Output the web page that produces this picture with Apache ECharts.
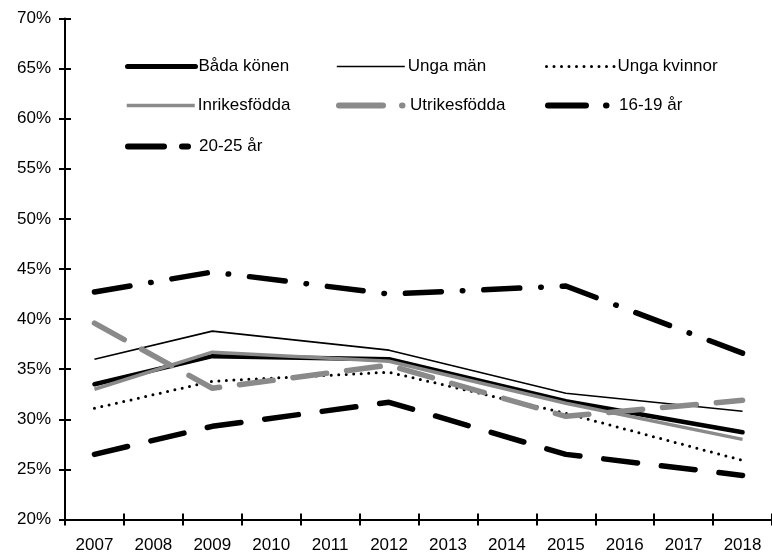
<!DOCTYPE html>
<html>
<head>
<meta charset="utf-8">
<script src="https://cdn.jsdelivr.net/npm/echarts@6/dist/echarts.min.js"></script>
<style>
  html, body { margin: 0; padding: 0; background: #fff; }
  #chart { width: 772px; height: 557px; }
</style>
</head>
<body>
<div id="chart"></div>
<script>
// years on the x axis, values only at the survey years (others are null)
const years = ['2007', '2008', '2009', '2010', '2011', '2012', '2013', '2014', '2015', '2016', '2017', '2018']
const badaKonen = [33.5, null, 36.3, null, null, 36.0, null, null, 31.8, null, null, 28.7]
const ungaMan = [36.0, null, 38.8, null, null, 36.9, null, null, 32.6, null, null, 30.8]
const ungaKvinnor = [31.1, null, 33.8, null, null, 34.7, null, null, 30.6, null, null, 25.9]
const inrikesfodda = [33.0, null, 36.7, null, null, 35.8, null, null, 31.6, null, null, 28.0]
const utrikesfodda = [39.6, null, 33.1, null, null, 35.4, null, null, 30.3, null, null, 31.9]
const ar1619 = [42.7, null, 44.7, null, null, 42.5, null, null, 43.3, null, null, 36.6]
const ar2025 = [26.5, null, 29.3, null, null, 31.7, null, null, 26.5, null, null, 24.4]

const font = "'Liberation Sans', Arial, sans-serif"
const grey = '#8a8a8a'

let chart = echarts.init(document.getElementById('chart'))

function line(name, data, color, width, type, cap) {
  return {
    name: name,
    type: 'line',
    data: data,
    connectNulls: true,
    symbol: 'none',
    animation: false,
    lineStyle: { color: color, width: width, type: type, cap: cap || 'butt' },
    itemStyle: { color: color }
  }
}

// one legend block per entry so each can sit where the original put it
function legendItem(name, left, top, style) {
  return {
    data: [name],
    left: left,
    top: top,
    itemWidth: 68,
    itemHeight: 14,
    padding: 0,
    selectedMode: false,
    itemStyle: { opacity: 0 },
    lineStyle: style,
    textStyle: { fontFamily: font, fontSize: 17, color: '#000', padding: [0, 0, 0, -2] }
  }
}

let option = {
  animation: false,
  grid: { left: 65, top: 18.5, width: 715.6, height: 501 },
  legend: [
    legendItem('Båda könen', 125, 58, { color: '#000', width: 5, type: 'solid', cap: 'round' }),
    legendItem('Unga män', 336, 58, { color: '#000', width: 1.6, type: 'solid' }),
    legendItem('Unga kvinnor', 545, 58, { color: '#000', width: 3, type: [0, 7.5], cap: 'round' }),
    legendItem('Inrikesfödda', 125, 97, { color: grey, width: 3.5, type: 'solid' }),
    legendItem('Utrikesfödda', 336, 97, { color: grey, width: 6, type: [44, 19, 0.5, 20], cap: 'round' }),
    legendItem('16-19 år', 545, 97, { color: '#000', width: 6, type: [38, 20, 0.5, 40], cap: 'round' }),
    legendItem('20-25 år', 125, 138, { color: '#000', width: 6, type: [36, 18, 6, 30], cap: 'round' })
  ],
  xAxis: [
    {
      type: 'category',
      data: years,
      boundaryGap: true,
      axisLine: { lineStyle: { color: '#000', width: 2 } },
      axisTick: { show: true, length: 6, lineStyle: { color: '#000', width: 2 } },
      axisLabel: { color: '#000', fontFamily: font, fontSize: 17, margin: 17 },
      splitLine: { show: false }
    },
    {
      type: 'category',
      data: years,
      position: 'bottom',
      boundaryGap: true,
      axisLine: { show: false },
      axisTick: { show: true, inside: true, length: 6, lineStyle: { color: '#000', width: 2 } },
      axisLabel: { show: false },
      splitLine: { show: false }
    }
  ],
  yAxis: [
    {
      type: 'value',
      min: 20,
      max: 70,
      interval: 5,
      axisLine: { show: true, lineStyle: { color: '#000', width: 2 } },
      axisTick: { show: true, length: 6, lineStyle: { color: '#000', width: 2 } },
      axisLabel: { color: '#000', fontFamily: font, fontSize: 17, margin: 14, formatter: '{value}%' },
      splitLine: { show: false }
    },
    {
      type: 'value',
      min: 20,
      max: 70,
      interval: 5,
      position: 'left',
      axisLine: { show: false },
      axisTick: { show: true, inside: true, length: 6, lineStyle: { color: '#000', width: 2 } },
      axisLabel: { show: false },
      splitLine: { show: false }
    }
  ],
  series: [
    line('Båda könen', badaKonen, '#000', 4.5, 'solid', 'round'),
    line('Unga män', ungaMan, '#000', 1.6, 'solid'),
    line('Unga kvinnor', ungaKvinnor, '#000', 3, [0, 7.5], 'round'),
    line('Inrikesfödda', inrikesfodda, grey, 3.5, 'solid'),
    line('Utrikesfödda', utrikesfodda, grey, 5.5, [34, 20], 'round'),
    line('16-19 år', ar1619, '#000', 5.5, [36, 21, 0.5, 21], 'round'),
    line('20-25 år', ar2025, '#000', 5.5, [34, 24], 'round')
  ]
}
chart.setOption(option)
</script>
</body>
</html>
